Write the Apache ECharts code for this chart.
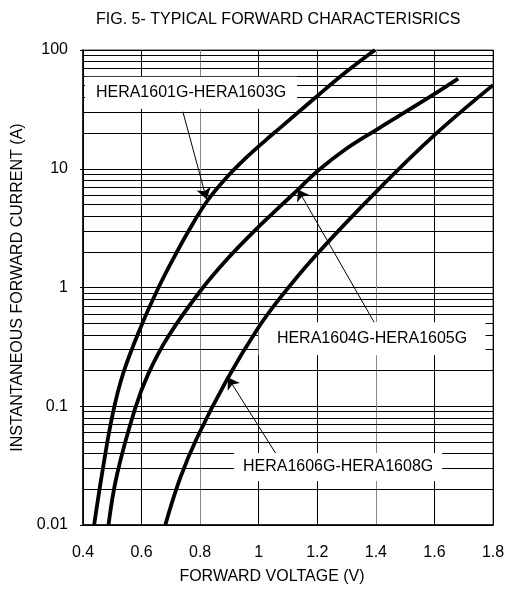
<!DOCTYPE html>
<html>
<head>
<meta charset="utf-8">
<script src="https://cdn.jsdelivr.net/npm/echarts@6/dist/echarts.min.js"></script>
<style>
html,body{margin:0;padding:0;background:#fff;}
#chart{width:512px;height:590px;}
</style>
</head>
<body>
<div id="chart"></div>
<script>
// ---- data ----
const xTicks = [0.4, 0.6, 0.8, 1.0, 1.2, 1.4, 1.6, 1.8];
const yTicks = [0.01, 0.1, 1, 10, 100];
const minorGrid = [0.02,0.03,0.04,0.05,0.06,0.07,0.08,0.09,
                   0.2,0.3,0.4,0.5,0.6,0.7,0.8,0.9,
                   2,3,4,5,6,7,8,9,
                   20,30,40,50,60,70,80,90];

const seriesNames = ['HERA1601G-HERA1603G', 'HERA1604G-HERA1605G', 'HERA1606G-HERA1608G'];

const curve1V = [0.438,0.468,0.501,0.536,0.595,0.658,0.721,0.766,0.823,0.891,0.959,1.027,1.073,1.198,1.300,1.397];
const curve1I = [0.01,0.030,0.085,0.185,0.45,1.0,2.0,3.16,5.3,8.47,12.5,17.7,22.1,40.6,65.8,100];

const curve2V = [0.487,0.516,0.578,0.624,0.692,0.800,0.891,0.993,1.073,1.135,1.198,1.300,1.403,1.584,1.681];
const curve2I = [0.01,0.0265,0.0957,0.19,0.39,0.93,1.72,3.13,4.82,6.70,9.44,14.8,21.4,40.3,57.5];

const curve3V = [0.681,0.732,0.789,0.891,0.993,1.073,1.193,1.403,1.599,1.8];
const curve3I = [0.01,0.0249,0.054,0.167,0.437,0.817,1.845,6.49,19.1,50.6];

// annotation label anchors (data units) and arrow [tail, tip] (data units)
const labelAnchors = [[0.769, 43.6], [1.387, 0.371], [1.271, 0.0308]];
const arrowTails = [[0.741, 30.2], [1.397, 0.495], [1.062, 0.0387]];
const arrowTips  = [[0.822, 5.53], [1.134, 6.70], [0.895, 0.1745]];

// ---- build ----
const FONT = 'Liberation Sans, Arial, sans-serif';
function zip(a, b){ return a.map((v,i)=>[v, b[i]]); }
const curves = [zip(curve1V, curve1I), zip(curve2V, curve2I), zip(curve3V, curve3I)];
const boxSizes = [[212, 32], [227, 33], [208, 28]];

const chart = echarts.init(document.getElementById('chart'), null, {renderer:'canvas'});

const series = curves.map((d, i) => ({
  name: seriesNames[i],
  type: 'line',
  data: d,
  smooth: 0.4,
  symbol: 'none',
  z: 5,
  lineStyle: {color: '#000', width: 3.8},
}));

series.push({
  type: 'line',
  data: [],
  silent: true,
  z: 1,
  markLine: {
    silent: true,
    symbol: ['none','none'],
    label: {show: false},
    animation: false,
    lineStyle: {color: '#000', width: 1, type: 'solid'},
    data: minorGrid.map(v => ({yAxis: v}))
  }
});
series.push({
  type: 'line',
  data: [],
  silent: true,
  z: 6,
  itemStyle: {color: '#000'},
  markPoint: {
    silent: true,
    animation: false,
    data: labelAnchors.map((c, i) => ({
      coord: c,
      symbol: 'rect',
      symbolSize: boxSizes[i],
      itemStyle: {color: '#fff'},
      label: {show: true, position: 'inside', formatter: seriesNames[i],
              color: '#000', fontSize: 16, fontFamily: FONT}
    }))
  },
  markLine: {
    silent: true,
    animation: false,
    symbol: ['none', 'arrow'],
    symbolSize: 11,
    label: {show: false},
    itemStyle: {color: '#000'},
    lineStyle: {color: '#000', width: 1, type: 'solid'},
    data: arrowTails.map((t, i) => [{coord: t}, {coord: arrowTips[i]}])
  }
});

chart.setOption({
  animation: false,
  backgroundColor: '#fff',
  title: {
    text: 'FIG. 5- TYPICAL FORWARD CHARACTERISRICS',
    left: 91,
    top: 7,
    textStyle: {fontFamily: FONT, fontSize: 16, fontWeight: 'normal', color: '#000'}
  },
  grid: {left: 83, right: 19, top: 50, bottom: 63, show: true, borderColor: '#888', borderWidth: 1.5},
  xAxis: {
    type: 'value',
    min: xTicks[0],
    max: xTicks[xTicks.length-1],
    interval: 0.2,
    name: 'FORWARD VOLTAGE (V)',
    nameLocation: 'middle',
    nameGap: 44,
    nameTextStyle: {fontFamily: FONT, fontSize: 16, color: '#000', padding: [0, 32, 0, 0]},
    axisLine: {lineStyle: {color: '#000', width: 1.5}},
    axisTick: {show: false},
    axisLabel: {fontFamily: FONT, fontSize: 16, color: '#000', margin: 20,
                formatter: v => String(Math.round(v*10)/10)},
    splitLine: {show: true, lineStyle: {color: ['#000','#000','#888'], width: 1}}
  },
  yAxis: {
    type: 'log',
    logBase: 10,
    min: yTicks[0],
    max: yTicks[yTicks.length-1],
    name: 'INSTANTANEOUS FORWARD CURRENT (A)',
    nameLocation: 'middle',
    nameGap: 55,
    nameTextStyle: {fontFamily: FONT, fontSize: 16, color: '#000'},
    axisLine: {lineStyle: {color: '#000', width: 1.5}},
    axisTick: {show: true, length: 3, lineStyle: {color: '#000'}},
    axisLabel: {fontFamily: FONT, fontSize: 16, color: '#000', margin: 15,
                formatter: v => String(v)},
    splitLine: {show: true, lineStyle: {color: '#000', width: 1}}
  },
  series: series
});
</script>
</body>
</html>
